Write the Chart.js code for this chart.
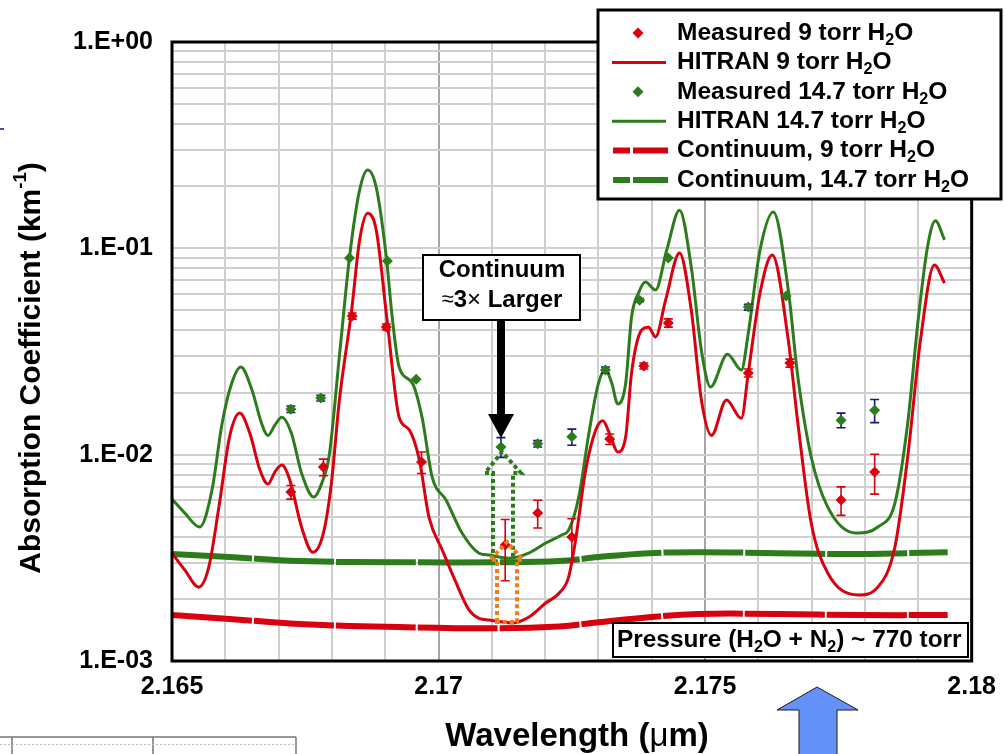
<!DOCTYPE html>
<html><head><meta charset="utf-8">
<script src="https://cdn.jsdelivr.net/npm/chart.js@4/dist/chart.umd.min.js"></script>
<style>html,body{margin:0;padding:0;background:#fff;}canvas{display:block}</style>
</head><body>
<canvas id="c" width="1007" height="754"></canvas>
<script>
// ---------------- DATA ----------------
const seriesNames = ['Measured 9 torr H_2O','HITRAN 9 torr H_2O','Measured 14.7 torr H_2O','HITRAN 14.7 torr H_2O','Continuum, 9 torr H_2O','Continuum, 14.7 torr H_2O'];
const xTickLabels = ['2.165','2.17','2.175','2.18'];
const yTickLabels = ['1.E-03','1.E-02','1.E-01','1.E+00'];

const hitran9Wl = [2.16500,2.16524,2.16550,2.16569,2.16588,2.16608,2.16627,2.16646,2.16665,2.16680,2.16693,2.16706,2.16721,2.16743,2.16764,2.16784,2.16799,2.16814,2.16837,2.16852,2.16867,2.16883,2.16904,2.16926,2.16945,2.16964,2.16982,2.17007,2.17033,2.17057,2.17076,2.17095,2.17138,2.17169,2.17201,2.17226,2.17244,2.17257,2.17276,2.17295,2.17308,2.17323,2.17336,2.17351,2.17362,2.17381,2.17394,2.17407,2.17426,2.17452,2.17474,2.17493,2.17512,2.17540,2.17568,2.17581,2.17603,2.17626,2.17656,2.17674,2.17699,2.17730,2.17787,2.17824,2.17856,2.17880,2.17904,2.17930,2.17949];
const hitran9 = [3.33e-3,2.76e-3,2.28e-3,2.85e-3,5.57e-3,1.22e-2,1.59e-2,1.27e-2,8.42e-3,7.20e-3,8.24e-3,8.90e-3,7.53e-3,4.46e-3,3.37e-3,4.17e-3,7.28e-3,1.84e-2,5.02e-2,1.10e-1,1.48e-1,1.23e-1,4.35e-2,1.52e-2,1.32e-2,9.42e-3,4.98e-3,3.45e-3,2.39e-3,1.77e-3,1.61e-3,1.58e-3,1.53e-3,1.63e-3,1.91e-3,2.13e-3,2.55e-3,3.85e-3,8.42e-3,1.32e-2,1.46e-2,1.22e-2,1.03e-2,1.22e-2,2.49e-2,4.02e-2,4.15e-2,3.72e-2,5.62e-2,9.49e-2,5.02e-2,1.84e-2,1.24e-2,1.84e-2,1.50e-2,2.49e-2,6.07e-2,9.28e-2,3.59e-2,1.42e-2,4.66e-3,2.67e-3,2.09e-3,2.28e-3,3.57e-3,9.74e-3,3.59e-2,8.30e-2,6.79e-2];

const hitran147Wl = [2.16500,2.16524,2.16552,2.16575,2.16594,2.16612,2.16629,2.16650,2.16668,2.16680,2.16693,2.16706,2.16724,2.16743,2.16766,2.16781,2.16795,2.16814,2.16833,2.16852,2.16867,2.16883,2.16902,2.16913,2.16926,2.16951,2.16969,2.16988,2.17014,2.17044,2.17076,2.17095,2.17132,2.17169,2.17201,2.17231,2.17244,2.17263,2.17282,2.17300,2.17313,2.17325,2.17336,2.17351,2.17362,2.17375,2.17388,2.17407,2.17428,2.17452,2.17474,2.17493,2.17510,2.17542,2.17568,2.17581,2.17603,2.17628,2.17656,2.17674,2.17699,2.17730,2.17783,2.17824,2.17856,2.17880,2.17899,2.17917,2.17932,2.17949];
const hitran147 = [6.09e-3,5.21e-3,4.46e-3,6.74e-3,1.42e-2,2.22e-2,2.66e-2,2.06e-2,1.42e-2,1.24e-2,1.39e-2,1.52e-2,1.27e-2,8.14e-3,6.23e-3,7.28e-3,9.96e-3,3.00e-2,9.08e-2,1.92e-1,2.40e-1,1.98e-1,9.08e-2,4.65e-2,2.66e-2,2.22e-2,1.52e-2,7.79e-3,6.03e-3,4.17e-3,3.33e-3,3.26e-3,3.15e-3,3.33e-3,3.73e-3,4.08e-3,4.31e-3,6.23e-3,1.27e-2,2.22e-2,2.57e-2,2.22e-2,1.76e-2,2.22e-2,4.65e-2,6.07e-2,6.87e-2,6.28e-2,9.81e-2,1.53e-1,8.12e-2,3.21e-2,2.13e-2,3.07e-2,2.57e-2,3.89e-2,9.81e-2,1.50e-1,6.28e-2,2.38e-2,9.74e-3,5.57e-3,4.17e-3,4.46e-3,5.83e-3,1.42e-2,4.35e-2,1.01e-1,1.36e-1,1.10e-1];

const contWl = [2.16500,2.16608,2.16739,2.16926,2.17113,2.17226,2.17300,2.17394,2.17487,2.17637,2.17787,2.17955];
const cont9 = [1.67e-3,1.60e-3,1.51e-3,1.46e-3,1.44e-3,1.47e-3,1.54e-3,1.63e-3,1.69e-3,1.69e-3,1.67e-3,1.67e-3];
const cont147 = [3.30e-3,3.19e-3,3.05e-3,3.01e-3,3.01e-3,3.05e-3,3.19e-3,3.33e-3,3.37e-3,3.33e-3,3.30e-3,3.37e-3];

const meas9Wl = [2.16723,2.16784,2.16838,2.16902,2.16968,2.17125,2.17186,2.17250,2.17321,2.17385,2.17431,2.17581,2.17659,2.17755,2.17818];
const meas9 = [6.59e-3,8.71e-3,4.70e-2,4.16e-2,9.21e-3,3.65e-3,5.21e-3,3.99e-3,1.19e-2,2.69e-2,4.35e-2,2.49e-2,2.78e-2,6.03e-3,8.24e-3];
const meas9Err = [0.5e-3,0.8e-3,1.6e-3,1.4e-3,1.1e-3,1.2e-3,0.8e-3,0.9e-3,0.7e-3,0.9e-3,2.0e-3,1.1e-3,1.25e-3,0.95e-3,1.8e-3];

const meas147Wl = [2.16723,2.16779,2.16833,2.16904,2.16958,2.17117,2.17186,2.17250,2.17313,2.17377,2.17431,2.17581,2.17652,2.17755,2.17818];
const meas147 = [1.66e-2,1.88e-2,8.97e-2,8.68e-2,2.32e-2,1.09e-2,1.13e-2,1.22e-2,2.57e-2,5.61e-2,8.97e-2,5.19e-2,5.87e-2,1.47e-2,1.64e-2];
const meas147Err = [0.6e-3,0.6e-3,0,0,0,1.2e-3,0.4e-3,1.1e-3,0.9e-3,1.0e-3,0,1.7e-3,0,1.2e-3,2.1e-3];

// ---------------- STYLE ----------------
const RED = '#d9000f', GREEN = '#2d7c1c', NAVY = '#161680', ORANGE = '#f07d1a', BLUE = '#6491f8';
const FONT = '"Liberation Sans", Arial, Helvetica, sans-serif';
const xy = (xs, ys) => xs.map((x, i) => ({x, y: ys[i]}));
const plain = s => s.replace(/_/g, '');

function parseRich(str, size) {
  const parts = []; let buf = '';
  for (let i = 0; i < str.length; i++) {
    if (str[i] === '_' ) { if (buf) parts.push({t: buf, size}); buf = ''; parts.push({t: str[i+1], size: size*0.66, dy: size*0.3}); i++; }
    else if (str[i] === '^') { if (buf) parts.push({t: buf, size}); buf = ''; let j = i+1, s = ''; while (j < str.length && str[j] !== '^') s += str[j++]; parts.push({t: s, size: size*0.62, dy: -size*0.38}); i = j; }
    else buf += str[i];
  }
  if (buf) parts.push({t: buf, size});
  return parts;
}
function drawRich(ctx, x, y, parts, align, weight) {
  weight = weight || 'bold';
  let w = 0;
  parts.forEach(p => { ctx.font = (p.weight || weight) + ' ' + p.size + 'px ' + FONT; p.w = ctx.measureText(p.t).width; w += p.w; });
  let cx = align === 'center' ? x - w/2 : x;
  ctx.textAlign = 'left'; ctx.textBaseline = 'middle';
  parts.forEach(p => { ctx.font = (p.weight || weight) + ' ' + p.size + 'px ' + FONT; ctx.fillText(p.t, cx, y + (p.dy || 0)); cx += p.w; });
}
function diamond(ctx, x, y, r, c) {
  ctx.beginPath(); ctx.moveTo(x, y-r); ctx.lineTo(x+r, y); ctx.lineTo(x, y+r); ctx.lineTo(x-r, y); ctx.closePath();
  ctx.fillStyle = c; ctx.fill();
}

const errorBars = {
  id: 'errorBars',
  beforeDatasetDraw(chart, args) {
    if (args.index > 1) return;
    const ctx = chart.ctx, xs = chart.scales.x, ys = chart.scales.y;
    const wl = args.index === 0 ? meas9Wl : meas147Wl;
    const v = args.index === 0 ? meas9 : meas147;
    const e = args.index === 0 ? meas9Err : meas147Err;
    ctx.save();
    ctx.strokeStyle = args.index === 0 ? RED : NAVY; ctx.lineWidth = 1.6;
    for (let k = 0; k < wl.length; k++) {
      if (!(e[k] > 0)) continue;
      const px = xs.getPixelForValue(wl[k]);
      const t = ys.getPixelForValue(v[k] + e[k]), b = ys.getPixelForValue(v[k] - e[k]);
      ctx.beginPath();
      ctx.moveTo(px, t); ctx.lineTo(px, b);
      ctx.moveTo(px-4.5, t); ctx.lineTo(px+4.5, t);
      ctx.moveTo(px-4.5, b); ctx.lineTo(px+4.5, b);
      ctx.stroke();
    }
    ctx.restore();
  }
};

const decor = {
  id: 'decor',
  afterDraw(chart) {
    const ctx = chart.ctx, a = chart.chartArea;
    ctx.save();
    // plot frame
    ctx.strokeStyle = '#000'; ctx.lineWidth = 3;
    ctx.strokeRect(a.left, a.top, a.right - a.left, a.bottom - a.top);

    // green dotted arrow
    ctx.lineWidth = 4; ctx.setLineDash([4, 3]); ctx.lineCap = 'butt';
    ctx.strokeStyle = GREEN;
    ctx.beginPath();
    ctx.moveTo(493, 560); ctx.lineTo(493, 473); ctx.lineTo(485, 473); ctx.lineTo(502, 452);
    ctx.lineTo(521, 473); ctx.lineTo(513, 473); ctx.lineTo(513, 560);
    ctx.stroke();
    // orange dotted arrow
    ctx.strokeStyle = ORANGE;
    ctx.beginPath();
    ctx.moveTo(497, 622); ctx.lineTo(497, 560); ctx.lineTo(490, 560); ctx.lineTo(507, 542);
    ctx.lineTo(523, 560); ctx.lineTo(517, 560); ctx.lineTo(517, 622); ctx.closePath();
    ctx.stroke();
    ctx.setLineDash([]);

    // black arrow
    ctx.fillStyle = '#000';
    ctx.fillRect(497, 320, 8, 97);
    ctx.beginPath(); ctx.moveTo(488, 414); ctx.lineTo(514, 414); ctx.lineTo(501, 438); ctx.closePath(); ctx.fill();

    // continuum box
    ctx.fillStyle = '#fff'; ctx.fillRect(423, 255, 157, 65);
    ctx.strokeStyle = '#000'; ctx.lineWidth = 2; ctx.strokeRect(423, 255, 157, 65);
    ctx.fillStyle = '#000';
    drawRich(ctx, 502, 270, [{t: 'Continuum', size: 24}], 'center');
    drawRich(ctx, 502, 300, [{t: '\u2248', size: 22, weight: 'normal'}, {t: '3', size: 24}, {t: '\u00d7', size: 24, weight: 'normal'}, {t: ' Larger', size: 24}], 'center');

    // pressure box
    ctx.fillStyle = '#fff'; ctx.fillRect(613, 623, 355, 34);
    ctx.strokeStyle = '#000'; ctx.lineWidth = 2; ctx.strokeRect(613, 623, 355, 34);
    ctx.fillStyle = '#000';
    drawRich(ctx, 617, 640, parseRich('Pressure (H_2O + N_2) ~ 770 torr', 24.4), 'left');

    // blue arrow
    ctx.fillStyle = BLUE; ctx.strokeStyle = '#1a1a1a'; ctx.lineWidth = 1;
    ctx.beginPath();
    ctx.moveTo(799, 756); ctx.lineTo(799, 710); ctx.lineTo(777, 710); ctx.lineTo(817, 687);
    ctx.lineTo(858, 710); ctx.lineTo(837, 710); ctx.lineTo(837, 756); ctx.closePath();
    ctx.fill(); ctx.stroke();

    // axis titles
    ctx.fillStyle = '#000';
    drawRich(ctx, 577, 737, [{t: 'Wavelength (', size: 33}, {t: '\u03bc', size: 33, weight: 'normal'}, {t: 'm)', size: 33}], 'center');
    ctx.save(); ctx.translate(32, 368); ctx.rotate(-Math.PI/2);
    drawRich(ctx, 0, 0, parseRich('Absorption Coefficient (km^-1^)', 30), 'center');
    ctx.restore();

    // stray table lines at bottom-left
    ctx.strokeStyle = '#777'; ctx.lineWidth = 1.5;
    ctx.beginPath();
    ctx.moveTo(0, 737); ctx.lineTo(296, 737);
    ctx.moveTo(12, 737); ctx.lineTo(12, 754);
    ctx.moveTo(153, 737); ctx.lineTo(153, 754);
    ctx.moveTo(296, 737); ctx.lineTo(296, 754);
    ctx.stroke();
    ctx.strokeStyle = '#bbb'; ctx.lineWidth = 1; ctx.setLineDash([2, 2]);
    ctx.beginPath(); ctx.moveTo(0, 744.5); ctx.lineTo(296, 744.5); ctx.stroke();
    ctx.setLineDash([]);
    ctx.strokeStyle = NAVY; ctx.lineWidth = 1.5;
    ctx.beginPath(); ctx.moveTo(0, 129); ctx.lineTo(4, 129); ctx.stroke();

    // legend
    ctx.fillStyle = '#fff'; ctx.fillRect(598, 10, 403, 189);
    ctx.strokeStyle = '#000'; ctx.lineWidth = 3; ctx.strokeRect(598, 10, 403, 189);
    const colors = [RED, RED, GREEN, GREEN, RED, GREEN];
    seriesNames.forEach((name, i) => {
      const y = 33 + i * 29.4;
      const c = colors[i];
      if (i === 0 || i === 2) diamond(ctx, 638, y, 5.5, c);
      else if (i === 1 || i === 3) { ctx.strokeStyle = c; ctx.lineWidth = 3; ctx.beginPath(); ctx.moveTo(612, y); ctx.lineTo(666, y); ctx.stroke(); }
      else { ctx.strokeStyle = c; ctx.lineWidth = 6; ctx.beginPath(); ctx.moveTo(613, y); ctx.lineTo(630, y); ctx.moveTo(633, y); ctx.lineTo(668, y); ctx.stroke(); }
      ctx.fillStyle = '#000';
      drawRich(ctx, 677, y, parseRich(name, 24.5), 'left');
    });
    ctx.restore();
  }
};

const yGrid = [];
for (let e = -3; e < 0; e++) for (let m = 1; m <= 9; m++) yGrid.push(+(m * Math.pow(10, e)).toPrecision(3));
yGrid.push(1);
const xGrid = [];
for (let i = 0; i <= 15; i++) xGrid.push(+(2.165 + i * 0.001).toFixed(3));

new Chart(document.getElementById('c'), {
  type: 'scatter',
  data: {
    datasets: [
      {label: plain(seriesNames[0]), data: xy(meas9Wl, meas9), showLine: false, pointStyle: 'rectRot', pointRadius: 5.5, pointHoverRadius: 5.5, backgroundColor: RED, borderColor: RED, borderWidth: 0},
      {label: plain(seriesNames[2]), data: xy(meas147Wl, meas147), showLine: false, pointStyle: 'rectRot', pointRadius: 5.5, pointHoverRadius: 5.5, backgroundColor: GREEN, borderColor: GREEN, borderWidth: 0},
      {label: plain(seriesNames[1]), data: xy(hitran9Wl, hitran9), showLine: true, pointRadius: 0, borderColor: RED, borderWidth: 3, cubicInterpolationMode: 'monotone'},
      {label: plain(seriesNames[3]), data: xy(hitran147Wl, hitran147), showLine: true, pointRadius: 0, borderColor: GREEN, borderWidth: 3, cubicInterpolationMode: 'monotone'},
      {label: plain(seriesNames[4]), data: xy(contWl, cont9), showLine: true, pointRadius: 0, borderColor: RED, borderWidth: 6, tension: 0.4, borderDash: [80, 2]},
      {label: plain(seriesNames[5]), data: xy(contWl, cont147), showLine: true, pointRadius: 0, borderColor: GREEN, borderWidth: 6, tension: 0.4, borderDash: [80, 2]}
    ]
  },
  options: {
    responsive: false, animation: false, devicePixelRatio: 1,
    layout: {padding: {top: 42, right: 33, left: 0, bottom: 0}},
    plugins: {legend: {display: false}, tooltip: {enabled: false}},
    scales: {
      x: {
        type: 'linear', min: 2.165, max: 2.18,
        afterBuildTicks: s => { s.ticks = xGrid.map(v => ({value: v})); },
        afterFit: s => { s.height = 93; },
        ticks: {autoSkip: false, maxRotation: 0, padding: 11, color: '#000', font: {family: FONT, size: 25, weight: 'bold'},
          callback: (v, i) => (i % 5 === 0 ? xTickLabels[i / 5] : '')},
        grid: {drawTicks: false, lineWidth: 2, color: c => (c.index === 5 || c.index === 10) ? '#a5a5a5' : '#cfcfcf'},
        border: {display: false}
      },
      y: {
        type: 'logarithmic', min: 0.001, max: 1,
        afterBuildTicks: s => { s.ticks = yGrid.map(v => ({value: v})); },
        afterFit: s => { s.width = 172; },
        ticks: {autoSkip: false, padding: 19, color: '#000', font: {family: FONT, size: 25, weight: 'bold'},
          callback: v => { const l = Math.log10(v); const r = Math.round(l); return Math.abs(l - r) < 1e-6 ? yTickLabels[r + 3] : ''; }},
        grid: {drawTicks: false, lineWidth: 2, color: '#cfcfcf'},
        border: {display: false}
      }
    }
  },
  plugins: [errorBars, decor]
});
</script>
</body></html>
